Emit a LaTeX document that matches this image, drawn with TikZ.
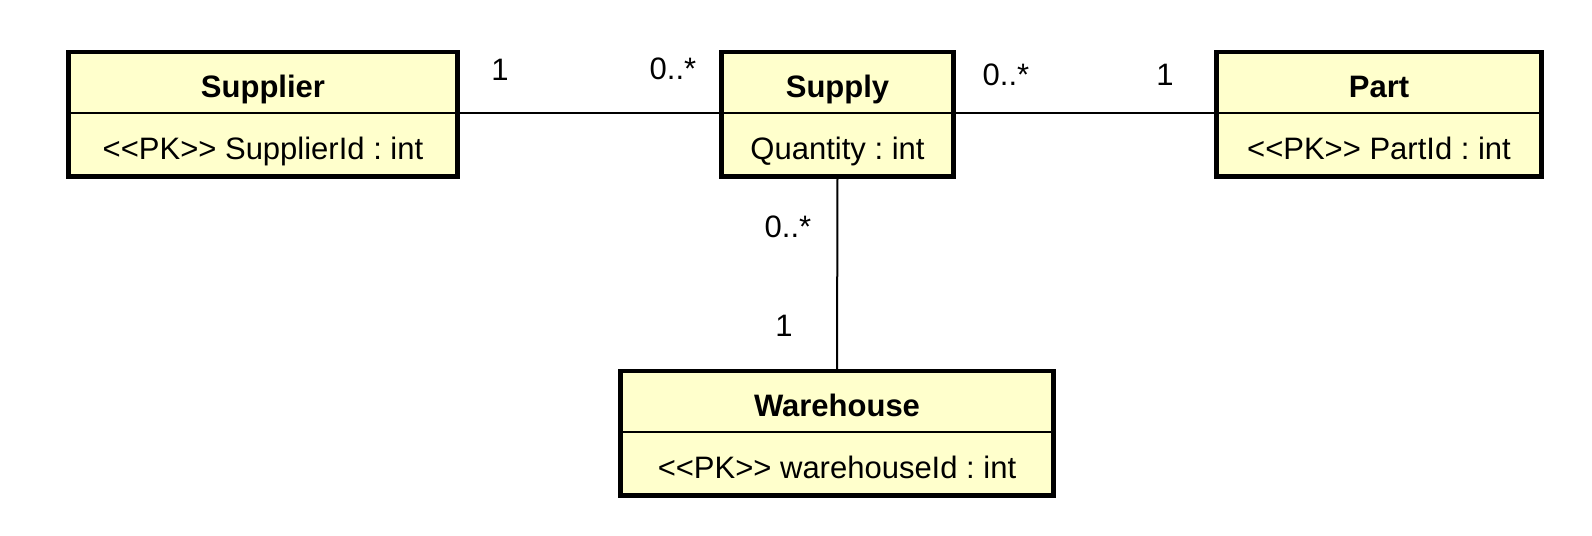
\documentclass[tikz,border=0pt]{standalone}
\usepackage{fontspec}
\setmainfont{Liberation Sans}
\usetikzlibrary{positioning}
\definecolor{ClassClr}{rgb}{1,1,0.8}
\newcommand\pkmark{<\kern0pt<PK>\kern0pt>}
\frenchspacing

\begin{document}
\begin{tikzpicture}[x=0.5pt,y=-0.5pt,
  every node/.style={font=\fontsize{15.5}{18}\selectfont},
  clstext/.style={fill=ClassClr,inner sep=0pt,text height=16pt,text depth=1.5pt},
  clshead/.style={clstext,minimum height=30pt,font=\fontsize{15.5}{18}\selectfont\bfseries},
  clsbody/.style={clstext,minimum height=31.5pt,below=0pt of #1},
  clsframe/.style={line width=2.25pt},
  clsdiv/.style={line width=1pt},
  assoc/.style={line width=1pt},
  mult/.style={inner sep=0pt}]
\useasboundingbox (0,0) rectangle (1592,536);

\node[clshead,minimum width=194pt] (supplier) at (263,82.5) {Supplier};
\node[clsbody=supplier,minimum width=194pt] (supplier-a) {\pkmark{} SupplierId : int};

\node[clshead,minimum width=115.5pt] (supply) at (837.5,82.5) {Supply};
\node[clsbody=supply,minimum width=115.5pt] (supply-a) {Quantity : int};

\node[clshead,minimum width=162pt] (part) at (1379,82.5) {Part};
\node[clsbody=part,minimum width=162pt] (part-a) {\pkmark{} PartId : int};

\node[clshead,minimum width=216pt] (warehouse) at (837,401.5) {Warehouse};
\node[clsbody=warehouse,minimum width=216pt] (warehouse-a) {\pkmark{} warehouseId : int};

\draw[assoc] (supplier.south east) -- (supply.south west);
\draw[assoc] (supply.south east) -- (part.south west);
\draw[assoc] (supply-a.south) -- (warehouse.north);

\foreach \n in {supplier,supply,part,warehouse}{
  \draw[clsdiv] (\n.south west) -- (\n.south east);
  \draw[clsframe] (\n.north west) rectangle (\n-a.south east);
}

\node[mult] (m1) at (500,70) {1};
\node[mult] (m2) at (673,69) {0..*};
\node[mult] (m3) at (1006,75) {0..*};
\node[mult] (m4) at (1165,75) {1};
\node[mult] (m5) at (788,227) {0..*};
\node[mult] (m6) at (784,326) {1};

\end{tikzpicture}
\end{document}
